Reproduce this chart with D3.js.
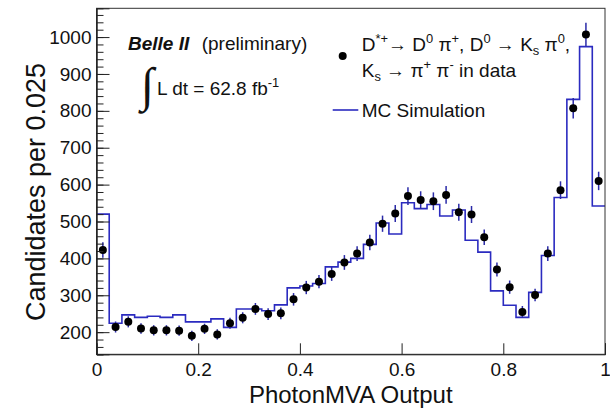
<!DOCTYPE html>
<html>
<head>
<meta charset="utf-8">
<script src="https://cdn.jsdelivr.net/npm/d3@7"></script>
<style>
  body { margin: 0; background: #fff; }
  svg { display: block; font-family: "Liberation Sans", Arial, sans-serif; }
</style>
</head>
<body>
<div id="chart"></div>
<script>
// Lower edges of the 40 bins (width 0.025)
const binLowEdges = [
  0, 0.025, 0.05, 0.075, 0.1, 0.125, 0.15, 0.175, 0.2, 0.225,
  0.25, 0.275, 0.3, 0.325, 0.35, 0.375, 0.4, 0.425, 0.45, 0.475,
  0.5, 0.525, 0.55, 0.575, 0.6, 0.625, 0.65, 0.675, 0.7, 0.725,
  0.75, 0.775, 0.8, 0.825, 0.85, 0.875, 0.9, 0.925, 0.95, 0.975
];
const binWidth = 0.025;

// Data points (candidates per bin)
const dataValues = [
  423, 214, 228, 210, 205, 205, 204, 190, 209, 194,
  224, 239, 263, 249, 251, 289, 321, 337, 358, 389,
  413, 443, 494, 522, 569, 558, 555, 572, 525, 519,
  457, 370, 322, 255, 301, 413, 585, 807, 1007, 610
];
// Error bar half-lengths
const dataErrors = [
  21, 15, 15, 14, 14, 14, 14, 14, 14, 14,
  15, 15, 16, 16, 16, 17, 18, 18, 19, 20,
  20, 21, 22, 23, 24, 24, 24, 24, 23, 23,
  21, 19, 18, 16, 17, 20, 24, 28, 32, 25
];
// MC simulation histogram
const mcValues = [
  520, 224, 247, 240, 243, 240, 247, 228, 228, 236,
  213, 263, 263, 258, 274, 320, 325, 332, 377, 390,
  400, 438, 496, 466, 551, 535, 546, 515, 531, 449,
  417, 312, 273, 240, 308, 408, 565, 831, 974, 542
];

const xTicks = [0, 0.2, 0.4, 0.6, 0.8, 1];
const xTickLabels = ["0", "0.2", "0.4", "0.6", "0.8", "1"];
const yTicks = [200, 300, 400, 500, 600, 700, 800, 900, 1000];
const yTickLabels = ["200", "300", "400", "500", "600", "700", "800", "900", "1000"];
const yMinorTicks = d3.range(140, 1080, 20);

const drawChart = () => {

  /*******************************/
  /*    Declare the constants    */
  /*******************************/
  const width = 610;
  const height = 412;
  const margin = {top: 8.3, right: 5, bottom: 57.7, left: 96.5};
  const innerWidth = width - margin.left - margin.right;
  const innerHeight = height - margin.top - margin.bottom;
  const mcColor = "#2b2bc0";
  const errColor = "#2a2aa8";

  const svg = d3.select("#chart")
    .append("svg")
      .attr("width", width)
      .attr("height", height)
      .attr("viewBox", `0, 0, ${width}, ${height}`);

  const innerChart = svg
    .append("g")
      .attr("transform", `translate(${margin.left}, ${margin.top})`);

  // Scales
  const xScale = d3.scaleLinear()
    .domain([0, 1])
    .range([0, innerWidth]);
  const yScale = d3.scaleLinear()
    .domain([140, 1078])
    .range([innerHeight, 0]);

  // MC histogram as a step line
  const mcPoints = binLowEdges.map((x, i) => [x, mcValues[i]]);
  mcPoints.push([1, mcValues[mcValues.length - 1]]);
  const stepLine = d3.line()
    .x(d => xScale(d[0]))
    .y(d => yScale(d[1]))
    .curve(d3.curveStepAfter);
  innerChart
    .append("path")
      .attr("d", stepLine(mcPoints))
      .attr("fill", "none")
      .attr("stroke", mcColor)
      .attr("stroke-width", 1.6);

  // Data error bars
  const points = binLowEdges.map((x, i) => ({
    x: x + binWidth / 2, y: dataValues[i], err: dataErrors[i]
  }));
  innerChart
    .append("g")
    .selectAll("line")
    .data(points)
    .join("line")
      .attr("x1", d => xScale(d.x))
      .attr("x2", d => xScale(d.x))
      .attr("y1", d => yScale(d.y - d.err))
      .attr("y2", d => yScale(d.y + d.err))
      .attr("stroke", errColor)
      .attr("stroke-width", 1.5);

  // Data markers
  innerChart
    .append("g")
    .selectAll("circle")
    .data(points)
    .join("circle")
      .attr("cx", d => xScale(d.x))
      .attr("cy", d => yScale(d.y))
      .attr("r", 4)
      .attr("fill", "#000");

  // Frame
  innerChart
    .append("rect")
      .attr("x", 0)
      .attr("y", 0)
      .attr("width", innerWidth)
      .attr("height", innerHeight)
      .attr("fill", "none")
      .attr("stroke", "#333")
      .attr("stroke-width", 1);

  // Axes (ticks pointing inward)
  const bottomAxis = d3.axisBottom(xScale)
    .tickValues(xTicks)
    .tickFormat((d, i) => xTickLabels[i])
    .tickSize(-11)
    .tickPadding(8);
  const xAxisG = innerChart
    .append("g")
      .attr("transform", `translate(0, ${innerHeight})`)
      .call(bottomAxis);

  const leftAxisMinor = d3.axisLeft(yScale)
    .tickValues(yMinorTicks)
    .tickFormat("")
    .tickSize(-7);
  const yMinorG = innerChart
    .append("g")
      .call(leftAxisMinor);

  const leftAxis = d3.axisLeft(yScale)
    .tickValues(yTicks)
    .tickFormat((d, i) => yTickLabels[i])
    .tickSize(-13)
    .tickPadding(5);
  const yAxisG = innerChart
    .append("g")
      .call(leftAxis);

  [xAxisG, yMinorG, yAxisG].forEach(g => {
    g.select(".domain").attr("stroke", "#222");
    g.selectAll(".tick line").attr("stroke", "#222");
    g.selectAll("text")
      .attr("font-family", "Liberation Sans, Arial, sans-serif")
      .attr("font-size", 19)
      .attr("fill", "#111");
  });

  // Axis titles
  svg
    .append("text")
      .text("PhotonMVA Output")
      .attr("text-anchor", "middle")
      .attr("x", margin.left + innerWidth / 2)
      .attr("y", 403)
      .attr("font-size", 24)
      .attr("fill", "#111");
  svg
    .append("text")
      .text("Candidates per 0.025")
      .attr("text-anchor", "middle")
      .attr("transform", "translate(45, 192) rotate(-90)")
      .attr("font-size", 27)
      .attr("fill", "#111");

  // Rich text helper: segments are [text, "sup" | "sub" | undefined]
  const richText = (x, y, size, segments) => {
    const t = svg.append("text")
      .attr("x", x)
      .attr("y", y)
      .attr("font-size", size)
      .attr("fill", "#111");
    let offset = 0;
    segments.forEach(([s, kind]) => {
      const target = kind === "sup" ? -0.42 * size : kind === "sub" ? 0.25 * size : 0;
      t.append("tspan")
        .attr("dy", target - offset)
        .attr("font-size", kind ? size * 0.68 : size)
        .text(s);
      offset = target;
    });
    return t;
  };

  // Belle II label
  const belle = svg.append("text")
    .attr("x", 128)
    .attr("y", 50)
    .attr("font-size", 19)
    .attr("fill", "#111");
  belle.append("tspan")
    .attr("font-weight", "bold")
    .attr("font-style", "italic")
    .text("Belle II");
  belle.append("tspan")
    .attr("x", 201.7)
    .text("(preliminary)");

  svg.append("text")
    .attr("x", 141)
    .attr("y", 101)
    .attr("font-family", "Liberation Serif, serif")
    .attr("font-size", 48)
    .attr("fill", "#111")
    .text("∫");
  richText(157, 95, 19, [["L dt = 62.8 fb"], ["-1", "sup"]]);

  // Legend
  svg.append("circle")
    .attr("cx", 342.7)
    .attr("cy", 56)
    .attr("r", 4)
    .attr("fill", "#000");
  richText(361.7, 50.7, 19, [
    ["D"], ["*+", "sup"], ["→ D"], ["0", "sup"], [" π"], ["+", "sup"],
    [", D"], ["0", "sup"], [" → K"], ["s", "sub"], [" π"], ["0", "sup"], [","]
  ]);
  richText(361.7, 76.7, 19, [
    ["K"], ["s", "sub"], [" → π"], ["+", "sup"], [" π"], ["-", "sup"], [" in data"]
  ]);
  svg.append("line")
    .attr("x1", 332.7)
    .attr("x2", 358.3)
    .attr("y1", 110)
    .attr("y2", 110)
    .attr("stroke", mcColor)
    .attr("stroke-width", 1.6);
  svg.append("text")
    .attr("x", 361.7)
    .attr("y", 117)
    .attr("font-size", 19)
    .attr("fill", "#111")
    .text("MC Simulation");
};

drawChart();
</script>
</body>
</html>
